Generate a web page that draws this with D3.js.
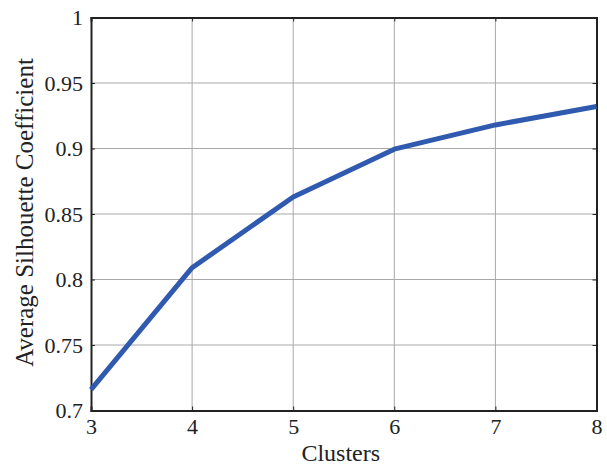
<!DOCTYPE html>
<html>
<head>
<meta charset="utf-8">
<script src="https://cdn.jsdelivr.net/npm/d3@7"></script>
<style>
body { margin: 0; background: #fff; }
text { font-family: "Liberation Serif", "Times New Roman", serif; fill: #222; }
</style>
</head>
<body>
<div id="chart"></div>
<script>
var clusters = [3, 4, 5, 6, 7, 8];
var silhouette = [0.716, 0.809, 0.863, 0.8995, 0.918, 0.932];
var yTicks = [0.7, 0.75, 0.8, 0.85, 0.9, 0.95, 1];

var outerWidth = 607, outerHeight = 466;
var margin = { top: 17.5, right: 10.5, bottom: 55.5, left: 91 };
var width = outerWidth - margin.left - margin.right,
    height = outerHeight - margin.top - margin.bottom;

var x = d3.scaleLinear().domain([3, 8]).range([0, width]);
var y = d3.scaleLinear().domain([0.7, 1]).range([height, 0]);

var svg = d3.select("#chart").append("svg")
    .attr("width", outerWidth)
    .attr("height", outerHeight)
  .append("g")
    .attr("transform", "translate(" + margin.left + "," + margin.top + ")");

// grid
svg.append("g")
    .selectAll("line")
    .data(clusters.slice(1, -1))
    .enter().append("line")
    .attr("x1", function(d) { return x(d); })
    .attr("x2", function(d) { return x(d); })
    .attr("y1", 0).attr("y2", height)
    .style("stroke", "#a8a8a8").style("stroke-width", 1);

svg.append("g")
    .selectAll("line")
    .data(yTicks.slice(1, -1))
    .enter().append("line")
    .attr("y1", function(d) { return y(d); })
    .attr("y2", function(d) { return y(d); })
    .attr("x1", 0).attr("x2", width)
    .style("stroke", "#a8a8a8").style("stroke-width", 1);

// axes with inward ticks
var xAxis = d3.axisBottom(x).tickValues(clusters).tickSize(-4).tickPadding(8).tickFormat(d3.format("d"));
var yAxis = d3.axisLeft(y).tickValues(yTicks).tickSize(-4).tickPadding(8).tickFormat(function(d) { return d === 1 ? "1" : d3.format("")(d); });

svg.append("g")
    .attr("transform", "translate(0," + height + ")")
    .call(xAxis);
svg.append("g").call(yAxis);

svg.append("g")
    .call(d3.axisTop(x).tickValues(clusters).tickSize(-4).tickFormat(""));
svg.append("g")
    .attr("transform", "translate(" + width + ",0)")
    .call(d3.axisRight(y).tickValues(yTicks).tickSize(-4).tickFormat(""));

svg.selectAll(".domain").style("stroke", "#222").style("stroke-width", 2);
svg.selectAll(".tick line").style("stroke", "#222");
svg.selectAll(".tick text").style("font-size", "22px").style("fill", "#222")
    .style("font-family", "'Liberation Serif', serif");

// line
var line = d3.line()
    .x(function(d, i) { return x(clusters[i]); })
    .y(function(d) { return y(d); });

svg.append("path")
    .datum(silhouette)
    .attr("d", line)
    .style("fill", "none")
    .style("stroke", "#2F5AAF")
    .style("stroke-width", 5)
    .style("stroke-linejoin", "round");

// labels
svg.append("text")
    .attr("x", width / 2 - 3)
    .attr("y", height + 50)
    .style("text-anchor", "middle")
    .style("font-size", "24px")
    .text("Clusters");

svg.append("text")
    .attr("transform", "rotate(-90)")
    .attr("x", -195)
    .attr("y", -58)
    .style("text-anchor", "middle")
    .style("font-size", "25px")
    .text("Average Silhouette Coefficient");
</script>
</body>
</html>
